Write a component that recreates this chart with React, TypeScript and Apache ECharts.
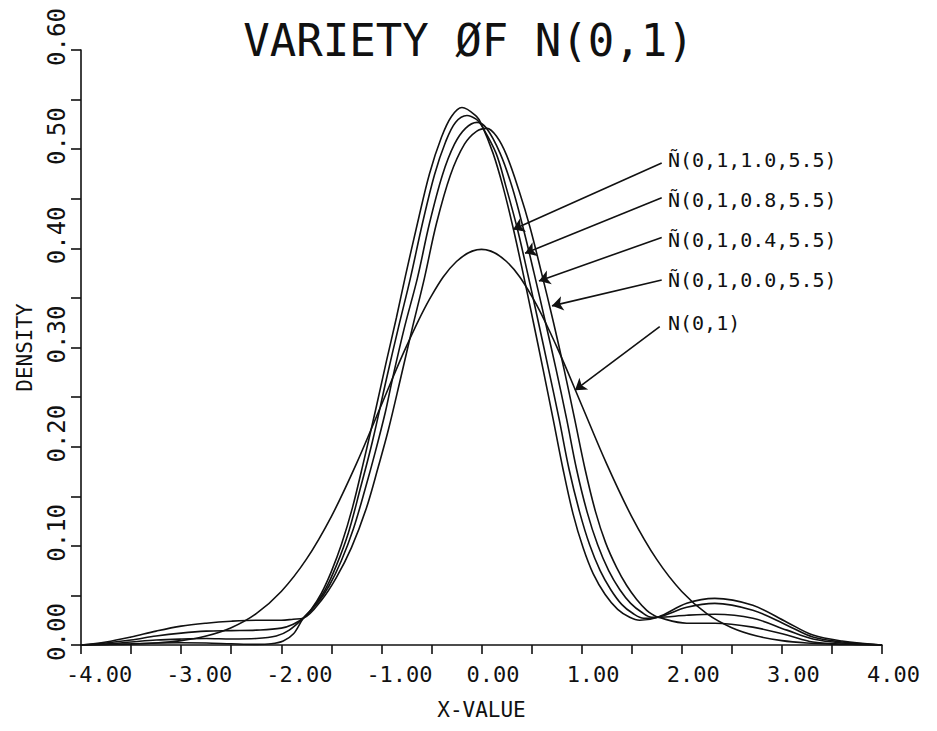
import React, { useEffect, useRef } from 'react';
import * as echarts from 'echarts';

// ---------- Data ----------
const seriesNames = ['Ñ(0,1,1.0,5.5)', 'Ñ(0,1,0.8,5.5)', 'Ñ(0,1,0.4,5.5)', 'Ñ(0,1,0.0,5.5)', 'N(0,1)'];

// Ñ(0,1,1.0,5.5)
const aX = [-4.0, -3.75, -3.5, -3.25, -3.0, -2.75, -2.5, -2.25, -2.1, -1.98, -1.88, -1.78, -1.7, -1.6, -1.5, -1.4, -1.29, -1.17, -1.06, -0.95, -0.85, -0.76, -0.64, -0.52, -0.4, -0.3, -0.195, -0.05, 0.0, 0.115, 0.215, 0.315, 0.415, 0.515, 0.615, 0.715, 0.815, 0.915, 1.015, 1.115, 1.235, 1.36, 1.48, 1.58, 1.76, 2.05, 2.33, 2.71, 3.05, 3.31, 3.6, 4.0];
const aY = [0, 0.0005, 0.0012, 0.002, 0.0022, 0.002, 0.0012, 0.0006, 0.0012, 0.004, 0.011, 0.027, 0.036, 0.052, 0.074, 0.101, 0.138, 0.188, 0.236, 0.286, 0.33, 0.372, 0.425, 0.475, 0.512, 0.533, 0.542, 0.533, 0.525, 0.496, 0.462, 0.421, 0.375, 0.327, 0.278, 0.228, 0.177, 0.132, 0.098, 0.072, 0.051, 0.036, 0.028, 0.025, 0.028, 0.042, 0.047, 0.04, 0.023, 0.01, 0.004, 0];

// Ñ(0,1,0.8,5.5)
const bX = [-4.0, -3.75, -3.5, -3.25, -3.0, -2.75, -2.5, -2.25, -2.05, -1.92, -1.78, -1.68, -1.56, -1.45, -1.33, -1.21, -1.09, -0.95, -0.83, -0.71, -0.59, -0.47, -0.36, -0.26, -0.145, -0.05, 0.0, 0.145, 0.245, 0.355, 0.46, 0.565, 0.67, 0.775, 0.875, 0.98, 1.08, 1.185, 1.29, 1.4, 1.51, 1.62, 1.76, 2.05, 2.33, 2.71, 3.05, 3.31, 3.6, 4.0];
const bY = [0, 0.001, 0.003, 0.005, 0.006, 0.0065, 0.006, 0.0065, 0.009, 0.015, 0.027, 0.038, 0.056, 0.08, 0.113, 0.158, 0.205, 0.268, 0.32, 0.37, 0.425, 0.474, 0.507, 0.527, 0.534, 0.53, 0.524, 0.496, 0.462, 0.421, 0.375, 0.327, 0.278, 0.228, 0.177, 0.134, 0.101, 0.075, 0.056, 0.041, 0.032, 0.027, 0.028, 0.038, 0.042, 0.035, 0.02, 0.008, 0.003, 0];

// Ñ(0,1,0.4,5.5)
const cX = [-4.0, -3.75, -3.5, -3.25, -3.0, -2.75, -2.5, -2.25, -2.0, -1.88, -1.78, -1.64, -1.52, -1.4, -1.28, -1.16, -1.06, -0.96, -0.89, -0.77, -0.64, -0.52, -0.39, -0.27, -0.16, -0.045, 0.05, 0.185, 0.305, 0.415, 0.525, 0.635, 0.745, 0.85, 0.95, 1.055, 1.16, 1.27, 1.38, 1.49, 1.6, 1.7, 1.76, 2.05, 2.33, 2.71, 3.05, 3.31, 3.6, 4.0];
const cY = [0, 0.002, 0.005, 0.009, 0.012, 0.014, 0.0145, 0.015, 0.017, 0.021, 0.027, 0.042, 0.06, 0.085, 0.117, 0.158, 0.195, 0.235, 0.268, 0.32, 0.37, 0.425, 0.474, 0.505, 0.521, 0.527, 0.521, 0.496, 0.462, 0.421, 0.375, 0.327, 0.278, 0.228, 0.177, 0.134, 0.101, 0.075, 0.056, 0.042, 0.033, 0.028, 0.028, 0.03, 0.031, 0.027, 0.015, 0.006, 0.002, 0];

// Ñ(0,1,0.0,5.5)
const dX = [-4.0, -3.75, -3.5, -3.25, -3.0, -2.75, -2.5, -2.25, -2.0, -1.88, -1.78, -1.6, -1.45, -1.3, -1.15, -1.03, -0.93, -0.81, -0.69, -0.57, -0.45, -0.31, -0.17, -0.05, 0.055, 0.15, 0.25, 0.375, 0.485, 0.6, 0.715, 0.825, 0.93, 1.035, 1.14, 1.24, 1.35, 1.45, 1.55, 1.65, 1.72, 1.76, 2.05, 2.33, 2.71, 3.05, 3.31, 3.6, 4.0];
const dY = [0, 0.003, 0.008, 0.014, 0.019, 0.022, 0.024, 0.025, 0.025, 0.026, 0.027, 0.045, 0.068, 0.098, 0.138, 0.18, 0.217, 0.268, 0.32, 0.37, 0.425, 0.474, 0.505, 0.518, 0.521, 0.513, 0.494, 0.458, 0.421, 0.375, 0.327, 0.278, 0.228, 0.177, 0.134, 0.103, 0.078, 0.06, 0.046, 0.035, 0.03, 0.028, 0.022, 0.022, 0.018, 0.01, 0.003, 0.001, 0];

// N(0,1)
const nX = [-4.0, -3.75, -3.5, -3.25, -3.0, -2.75, -2.5, -2.25, -2.0, -1.75, -1.5, -1.25, -1.0, -0.75, -0.5, -0.25, 0.0, 0.25, 0.5, 0.75, 1.0, 1.25, 1.5, 1.75, 2.0, 2.25, 2.5, 2.75, 3.0, 3.25, 3.5, 3.75, 4.0];
const nY = [0.0001, 0.0004, 0.0009, 0.002, 0.0044, 0.0091, 0.0175, 0.0317, 0.054, 0.0863, 0.1295, 0.1826, 0.242, 0.3011, 0.3521, 0.3867, 0.3989, 0.3867, 0.3521, 0.3011, 0.242, 0.1826, 0.1295, 0.0863, 0.054, 0.0317, 0.0175, 0.0091, 0.0044, 0.002, 0.0009, 0.0004, 0.0001];

// Arrow annotations: label start -> point on the curve (data coordinates)
const arrowFromX = [1.8, 1.8, 1.8, 1.8, 1.78];
const arrowFromY = [0.486, 0.451, 0.411, 0.368, 0.321];
const arrowToX = [0.315, 0.435, 0.574, 0.704, 0.934];
const arrowToY = [0.419, 0.395, 0.367, 0.342, 0.257];

const titleText = 'VARIETY ØF N(0,1)';
const xAxisName = 'X-VALUE';
const yAxisName = 'DENSITY';

const MONO = '"DejaVu Sans Mono", "Liberation Mono", monospace';
const INK = '#111';

const pair = (xs: number[], ys: number[]) => xs.map((x, i) => [x, ys[i]]);

export default function App() {
  const ref = useRef<HTMLDivElement>(null);

  useEffect(() => {
    document.body.style.margin = '0';
    if (!ref.current) return;
    const chart = echarts.init(ref.current, undefined, { renderer: 'svg' });

    const curves = [pair(aX, aY), pair(bX, bY), pair(cX, cY), pair(dX, dY), pair(nX, nY)];

    const lineSeries: any[] = curves.map((data, i) => ({
      name: seriesNames[i],
      type: 'line',
      data,
      showSymbol: false,
      smooth: 0.35,
      silent: true,
      lineStyle: { color: INK, width: 1.6 },
      z: 2,
    }));

    lineSeries.push({
      name: 'arrows',
      type: 'line',
      data: [],
      silent: true,
      markLine: {
        silent: true,
        symbol: ['none', 'arrow'],
        symbolSize: 11,
        label: { show: false },
        lineStyle: { color: INK, width: 1.6, type: 'solid' },
        data: arrowFromX.map((fx, i) => [
          { coord: [fx, arrowFromY[i]] },
          { coord: [arrowToX[i], arrowToY[i]] },
        ]),
      },
    });

    const labelYs = [160, 200, 240, 280, 323];

    chart.setOption({
      animation: false,
      backgroundColor: '#fff',
      title: {
        text: titleText,
        left: 'center',
        top: 13,
        textStyle: { fontFamily: MONO, fontSize: 44, fontWeight: 'normal', color: INK },
      },
      grid: { left: 81, right: 55, top: 50, bottom: 86, containLabel: false },
      xAxis: {
        type: 'value',
        min: -4,
        max: 4,
        interval: 0.5,
        name: xAxisName,
        nameLocation: 'middle',
        nameGap: 54,
        nameTextStyle: { fontFamily: MONO, fontSize: 21, color: INK },
        axisLine: { show: true, onZero: false, lineStyle: { color: INK, width: 1.6 } },
        axisTick: { show: true, length: 9, lineStyle: { color: INK, width: 1.6 } },
        splitLine: { show: false },
        axisLabel: {
          fontFamily: MONO,
          fontSize: 22,
          color: INK,
          margin: 18,
          align: 'left',
          padding: [0, 0, 0, -15],
          formatter: (v: number) => (Math.abs(v - Math.round(v)) < 1e-9 ? v.toFixed(2) : ''),
        },
      },
      yAxis: {
        type: 'value',
        min: 0,
        max: 0.6,
        interval: 0.05,
        name: yAxisName,
        nameLocation: 'middle',
        nameRotate: 90,
        nameGap: 46,
        nameTextStyle: { fontFamily: MONO, fontSize: 21, color: INK },
        axisLine: { show: true, onZero: false, lineStyle: { color: INK, width: 1.6 } },
        axisTick: { show: true, length: 10, lineStyle: { color: INK, width: 1.6 } },
        splitLine: { show: false },
        axisLabel: {
          fontFamily: MONO,
          fontSize: 24,
          color: INK,
          rotate: 90,
          margin: 12,
          padding: [0, 0, 0, 26],
          formatter: (v: number) => {
            const r = Math.round(v * 100);
            return r % 10 === 0 ? (r / 100).toFixed(2) : '';
          },
        },
      },
      graphic: seriesNames.map((t, i) => ({
        type: 'text',
        x: 668,
        y: labelYs[i],
        silent: true,
        style: {
          text: t,
          font: `20px ${MONO}`,
          fill: INK,
          textAlign: 'left',
          textVerticalAlign: 'middle',
          align: 'left',
          verticalAlign: 'middle',
        },
      })),
      series: lineSeries,
    });

    return () => chart.dispose();
  }, []);

  return <div ref={ref} style={{ width: 937, height: 731 }} />;
}
